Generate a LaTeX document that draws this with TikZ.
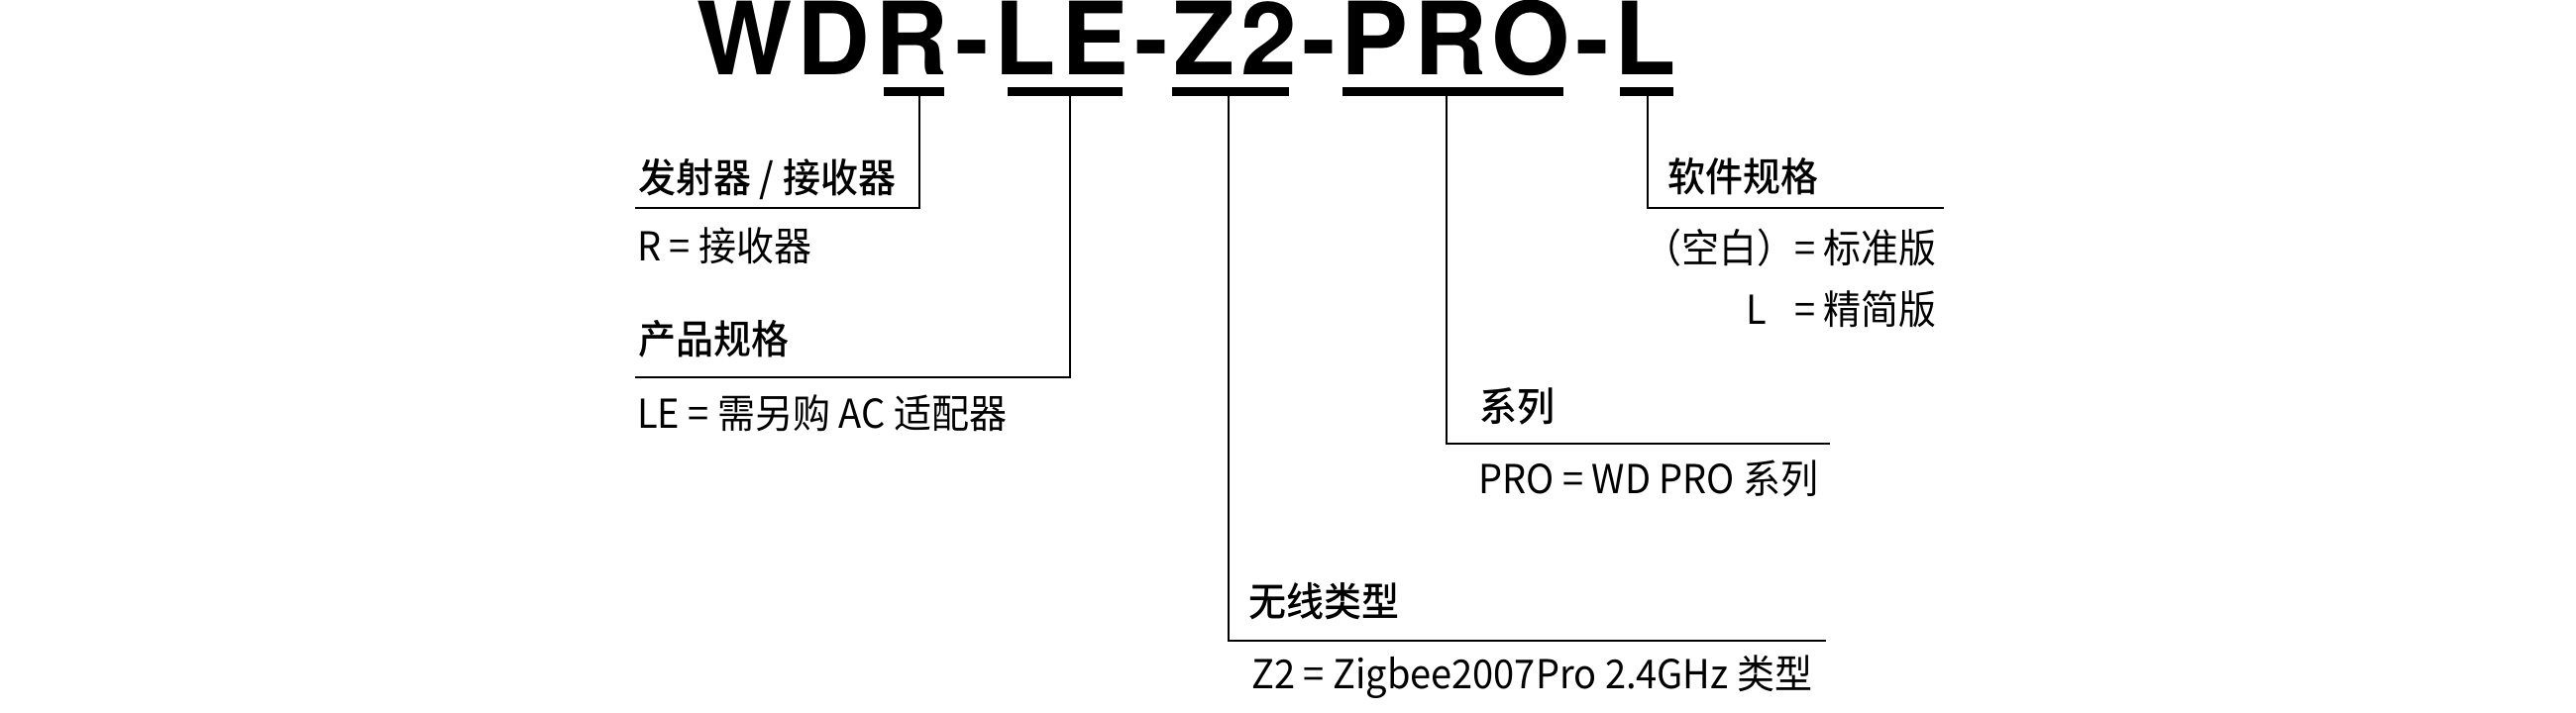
\documentclass[tikz,border=0pt]{standalone}
\usepackage{graphicx}
\usepackage{fontspec}
\setmainfont{Noto Sans CJK SC}
\newfontfamily\medfont{Noto Sans CJK SC Medium}
\newfontfamily\titlefont{TeX Gyre Heros}[LetterSpace=5.3]
\newcommand\vstretch[1]{\scalebox{1}[1.06]{#1}}
\begin{document}
\begin{tikzpicture}[x=1bp,y=-1bp]
\tikzset{
  head/.style={anchor=base west, inner sep=0pt, font=\medfont\fontsize{38bp}{42bp}\selectfont},
  desc/.style={anchor=base west, inner sep=0pt, font=\fontsize{38bp}{42bp}\selectfont},
  descr/.style={desc, anchor=base east},
  bar/.style={fill=black, draw=none, inner sep=0pt, minimum height=9bp, anchor=north west},
  conn/.style={line width=2bp, draw=black},
  title/.style={anchor=base west, inner sep=0pt, font=\titlefont\bfseries\fontsize{102bp}{110bp}\selectfont}
}
\useasboundingbox (0,0) rectangle (2600,720);
\fill[white] (0,0) rectangle (2600,720);

% title
\node[title] (t) at (703,76) {WDR-LE-Z2-PRO-L};

% underline bars
\node[bar, minimum width=61bp]  (barR)   at (892,88)  {};
\node[bar, minimum width=116bp] (barLE)  at (1017,88) {};
\node[bar, minimum width=118bp] (barZ)   at (1183,88) {};
\node[bar, minimum width=223bp] (barPRO) at (1355,88) {};
\node[bar, minimum width=54bp]  (barL)   at (1635,88) {};

% corners and free ends
\coordinate (kR)   at (928,210);
\coordinate (eR)   at (641,210);
\coordinate (kLE)  at (1080,381);
\coordinate (eLE)  at (641,381);
\coordinate (kZ)   at (1240,647);
\coordinate (eZ)   at (1843,647);
\coordinate (kPRO) at (1460,448);
\coordinate (ePRO) at (1847,448);
\coordinate (kL)   at (1663,210);
\coordinate (eL)   at (1962,210);

\draw[conn] (barR.south -| kR) -- (kR) -- (eR);
\draw[conn] (barLE.south -| kLE) -- (kLE) -- (eLE);
\draw[conn] (barZ.south -| kZ) -- (kZ) -- (eZ);
\draw[conn] (barPRO.south -| kPRO) -- (kPRO) -- (ePRO);
\draw[conn] (barL.south -| kL) -- (kL) -- (eL);

% labels
\node[head] (hR)   at (644,194) {\vstretch{发射器 / 接收器}};
\node[desc] (dR)   at (643,263) {\vstretch{R = 接收器}};
\node[head] (hLE)  at (644,357) {\vstretch{产品规格}};
\node[desc] (dLE)  at (643,432) {\vstretch{LE = 需另购 AC 适配器}};
\node[head] (hL)   at (1683,193) {\vstretch{软件规格}};
\node[descr] (dL1) at (1955,265) {\vstretch{（空白）= 标准版}};
\node[descr] (dL2) at (1955,327) {\vstretch{L\hspace{28bp}= 精简版}};
\node[head] (hPRO) at (1493,425) {\vstretch{系列}};
\node[desc] (dPRO) at (1492,498) {\vstretch{PRO = WD PRO 系列}};
\node[head] (hZ)   at (1260,622) {\vstretch{无线类型}};
\node[desc] (dZ)   at (1263,695) {\vstretch{Z2 = Zigbee2007Pro 2.4GHz 类型}};
\end{tikzpicture}
\end{document}
